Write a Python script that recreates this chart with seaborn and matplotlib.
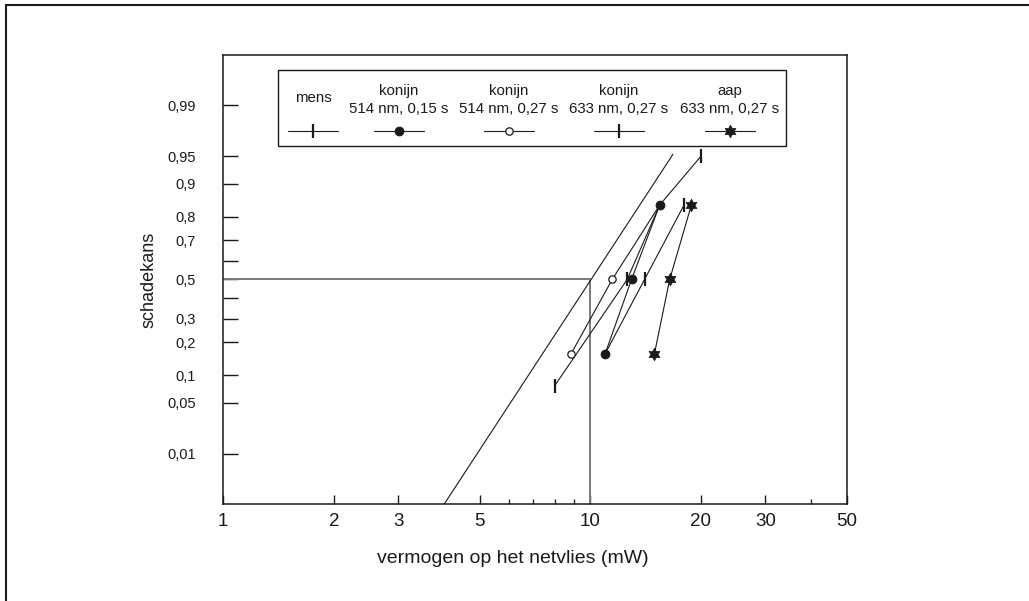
import numpy as np
import matplotlib.pyplot as plt
import matplotlib.lines as mlines
from matplotlib.patches import Rectangle
from matplotlib.path import Path
from matplotlib.ticker import FixedLocator, FixedFormatter, NullFormatter
from statistics import NormalDist
import seaborn as sns

# power on the retina (mW) against probability of damage
mens_x = [8.0, 12.6, 15.45, 20.0]
mens_p = [0.078, 0.5, 0.84, 0.95]
mens_fit_x = [4.0, 16.8]
mens_fit_p = [0.00135, 0.953]

k514_015_x = [10.97, 12.95, 15.45]
k514_015_p = [0.16, 0.5, 0.84]

k514_027_x = [8.86, 11.47, 15.45]
k514_027_p = [0.16, 0.5, 0.84]

k633_027_x = [10.97, 14.05, 18.0]
k633_027_p = [0.16, 0.5, 0.84]

aap_x = [14.95, 16.45, 18.85]
aap_p = [0.16, 0.5, 0.84]

ref_x = [1, 10, 10]
ref_p = [0.5, 0.5, 0.00135]

y_lim = [0.00135, 0.99865]
y_ticks = [0.01, 0.05, 0.1, 0.2, 0.3, 0.4, 0.5, 0.6, 0.7, 0.8, 0.9, 0.95, 0.99]
y_labels = ['0,01', '0,05', '0,1', '0,2', '0,3', '', '0,5', '', '0,7', '0,8', '0,9', '0,95', '0,99']
x_ticks = [1, 2, 3, 5, 10, 20, 30, 50]
x_labels = ['1', '2', '3', '5', '10', '20', '30', '50']
x_minor = [6, 7, 8, 9, 40]

legend_labels = ['mens', 'konijn\n514 nm, 0,15 s', 'konijn\n514 nm, 0,27 s',
                 'konijn\n633 nm, 0,27 s', 'aap\n633 nm, 0,27 s']

# probability (probit) axis
_nd = NormalDist()
_ppf = np.vectorize(_nd.inv_cdf, otypes=[float])
_cdf = np.vectorize(_nd.cdf, otypes=[float])


def probit(p):
    p = np.clip(np.asarray(p, dtype=float), 1e-12, 1 - 1e-12)
    return _ppf(p)


def inv_probit(z):
    return _cdf(np.asarray(z, dtype=float))


sns.set_theme(style='white')
plt.rcParams['font.family'] = ['Liberation Sans', 'DejaVu Sans']
plt.rcParams['axes.edgecolor'] = 'black'

fig = plt.figure(figsize=(10.29, 6.01), dpi=100)
ax = fig.add_axes([0.217, 0.1614, 0.606, 0.7471])

tick_style = dict(marker='|', markersize=9.5, markeredgewidth=1.6,
                  markeredgecolor='k', markerfacecolor='k')
filled_style = dict(marker='o', markersize=6.2, markeredgewidth=0.8,
                    markeredgecolor='k', markerfacecolor='k')
open_style = dict(marker='o', markersize=5.3, markeredgewidth=0.9,
                  markeredgecolor='k', markerfacecolor='white')
star_style = dict(marker=Path.unit_regular_star(6, 0.577), markersize=9,
                  markeredgewidth=0.5, markeredgecolor='k', markerfacecolor='k')

# reference lines at 50 % / 10 mW
sns.lineplot(x=ref_x, y=ref_p, ax=ax, color='#7a7a7a', linewidth=1.4,
             sort=False, estimator=None, zorder=1)
# fitted line for humans
sns.lineplot(x=mens_fit_x, y=mens_fit_p, ax=ax, color='k', linewidth=0.8,
             sort=False, estimator=None, zorder=2)

# points that sit under a filled circle are not marked in the original
series = [
    (mens_x, mens_p, tick_style, 3, [0, 1, 3]),
    (k633_027_x, k633_027_p, tick_style, 3, [1, 2]),
    (k514_027_x, k514_027_p, open_style, 4, [0, 1]),
    (k514_015_x, k514_015_p, filled_style, 5, None),
    (aap_x, aap_p, star_style, 5, None),
]
for xs, ps, style, z, every in series:
    sns.lineplot(x=xs, y=ps, ax=ax, color='k', linewidth=0.8, sort=False,
                 estimator=None, zorder=z, markevery=every, **style)

ax.set_xscale('log')
ax.set_yscale('function', functions=(probit, inv_probit))
ax.set_xlim(1, 50)
ax.set_ylim(*y_lim)

ax.xaxis.set_major_locator(FixedLocator(x_ticks))
ax.xaxis.set_major_formatter(FixedFormatter(x_labels))
ax.xaxis.set_minor_locator(FixedLocator(x_minor))
ax.xaxis.set_minor_formatter(NullFormatter())
ax.set_yticks(y_ticks, labels=y_labels)
ax.yaxis.set_minor_locator(FixedLocator([]))

ax.tick_params(axis='x', which='major', direction='in', length=6.5, width=1.0,
               pad=6.5, labelsize=13.5, colors='k', bottom=True, top=False)
ax.tick_params(axis='x', which='minor', direction='in', length=3.6, width=1.0,
               bottom=True, top=False)
ax.tick_params(axis='y', which='major', direction='in', length=10.8, width=1.0,
               pad=19.5, labelsize=10.5, colors='k', left=True, right=False)
for sp in ax.spines.values():
    sp.set_visible(True)
    sp.set_linewidth(1.1)
    sp.set_color('k')

ax.set_xlabel('vermogen op het netvlies (mW)', fontsize=14, color='k')
ax.xaxis.set_label_coords(0.464, -0.1025)
ax.set_ylabel('schadekans', fontsize=13, color='k')
ax.yaxis.set_label_coords(-0.106, 0.5)

# legend drawn as a box with captions above the line samples
ax.add_patch(Rectangle((0.088, 0.7973), 0.8145, 0.1693, transform=ax.transAxes,
                       fill=False, edgecolor='k', linewidth=1.0, zorder=6,
                       clip_on=False))
col_px = [313, 399, 509, 619, 730]
handle_styles = [tick_style, filled_style, open_style, tick_style, star_style]
hw = 25 / 624
hy = (504 - 131) / 449
for cpx, lab, style in zip(col_px, legend_labels, handle_styles):
    cx = (cpx - 223.3) / 624
    ax.add_line(mlines.Line2D([cx - hw, cx, cx + hw], [hy, hy, hy],
                              transform=ax.transAxes, color='k', linewidth=0.8,
                              markevery=[1], clip_on=False, zorder=7, **style))
    ty = (504 - 98) / 449 if '\n' not in lab else (504 - 100) / 449
    ax.text(cx, ty, lab, transform=ax.transAxes, ha='center', va='center',
            fontsize=10.8, linespacing=1.3, color='k', zorder=7)

# page frame (top and left edge)
fig.add_artist(mlines.Line2D([0.0058, 1.0], [0.9925, 0.9925],
                             transform=fig.transFigure, color='k', linewidth=1.5))
fig.add_artist(mlines.Line2D([0.0058, 0.0058], [0.0, 0.9925],
                             transform=fig.transFigure, color='k', linewidth=1.5))

fig.savefig('out.png', dpi=100, facecolor='white')
